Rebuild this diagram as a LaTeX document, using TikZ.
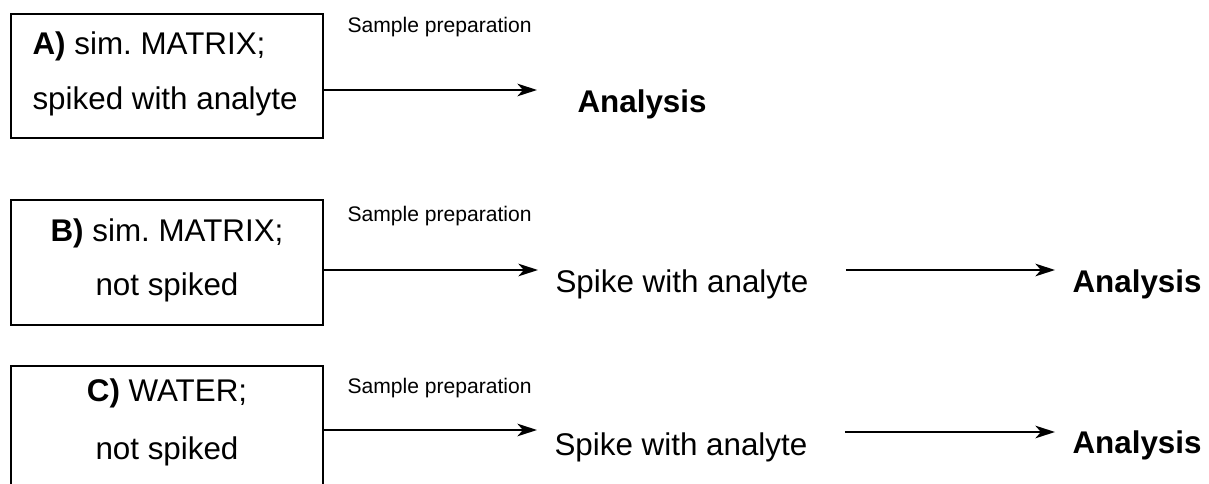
\documentclass[tikz,border=0pt]{standalone}
\usepackage{fontspec}
\setmainfont{Liberation Sans}
\frenchspacing
\usepackage{tikz}
\usetikzlibrary{arrows.meta}
\usetikzlibrary{calc}
\usetikzlibrary{positioning}
\tikzstyle{fleche} = [-{Stealth[length=14pt,width=9pt,inset=4pt]},line width=1.1pt]
\tikzstyle{boite} = [draw,line width=1.8pt,minimum width=7.8cm,inner sep=0pt]
\tikzstyle{grand} = [inner sep=0pt,font=\fontsize{22.3}{26}\selectfont]
\tikzstyle{petit} = [inner sep=0pt,anchor=base west,font=\fontsize{15}{18}\selectfont]

\begin{document}
\begin{tikzpicture}[thick, x=0.025cm, y=-0.025cm]
	\clip (0,0) rectangle (1209,484);

	% A
	\node[boite, minimum height=3.1cm] (boxA) at (167,76) {};
	\node[grand, anchor=base west] (A1) at (32,55) {\textbf{A)} sim. MATRIX;};
	\node[grand, anchor=base west] (A2) at (32,110) {spiked with analyte};
	\node[petit] (prepA) at (347,33) {Sample preparation};
	\node[grand, anchor=base west] (anaA) at (577,113) {\textbf{Analysis}};
	\coordinate (tipA) at (537,90);
	\draw[fleche] (boxA.east |- tipA) -- (tipA);

	% B
	\node[boite, minimum height=3.125cm] (boxB) at (167,262.5) {};
	\node[grand, anchor=base] (B1) at (167,242) {\textbf{B)} sim. MATRIX;};
	\node[grand, anchor=base] (B2) at (167,296) {not spiked};
	\node[petit] (prepB) at (347,222) {Sample preparation};
	\node[grand, anchor=base west] (spikeB) at (555,293) {Spike with analyte};
	\node[grand, anchor=base west] (anaB) at (1072,293) {\textbf{Analysis}};
	\coordinate (rowB) at (0,270);
	\draw[fleche] (boxB.east |- rowB) -- ($(spikeB.west |- rowB)+(-17,0)$);
	\draw[fleche] ($(spikeB.east |- rowB)+(37,0)$) -- ($(anaB.west |- rowB)+(-17,0)$);

	% C
	\node[boite, minimum height=3.125cm] (boxC) at (167,428.5) {};
	\node[grand, anchor=base] (C1) at (167,402) {\textbf{C)} WATER;};
	\node[grand, anchor=base] (C2) at (167,459) {not spiked};
	\node[petit] (prepC) at (347,394) {Sample preparation};
	\node[grand, anchor=base west] (spikeC) at (554,455) {Spike with analyte};
	\node[grand, anchor=base west] (anaC) at (1072,453) {\textbf{Analysis}};
	\coordinate (rowC) at (0,430);
	\coordinate (rowCC) at (0,432);
	\draw[fleche] (boxC.east |- rowC) -- ($(spikeC.west |- rowC)+(-17,0)$);
	\draw[fleche] ($(spikeC.east |- rowCC)+(37,0)$) -- ($(anaC.west |- rowCC)+(-17,0)$);
\end{tikzpicture}
\end{document}
